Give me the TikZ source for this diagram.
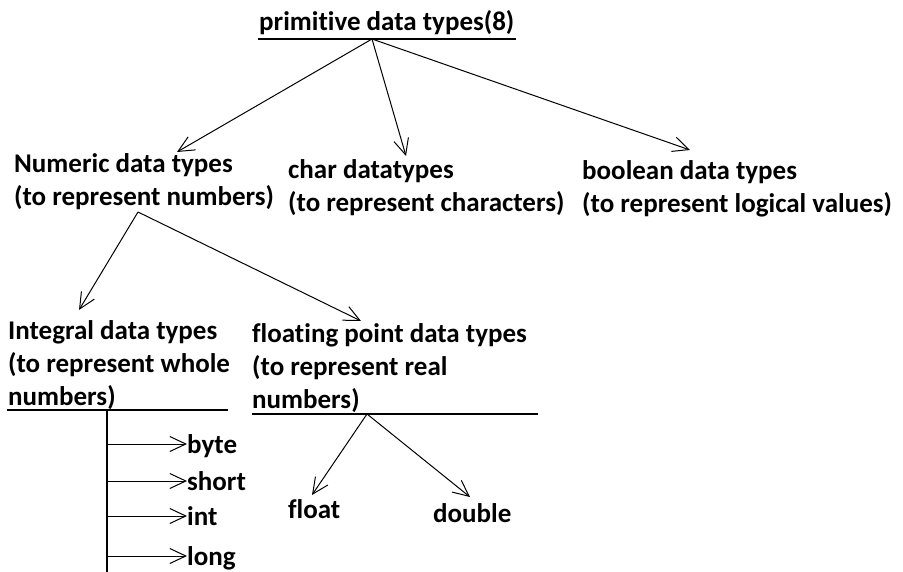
\documentclass[tikz,border=0pt]{standalone}
\usepackage{fontspec}
\setmainfont{Carlito}[Ligatures=NoCommon]
\usetikzlibrary{arrows.meta}

\begin{document}
\begin{tikzpicture}[x=1pt,y=-1pt,
    lbl/.style={anchor=base west,inner sep=0pt,align=left,font=\bfseries\fontsize{27}{33}\selectfont},
    arr/.style={line width=1pt,-{Straight Barb[length=16pt,width=15pt]}},
    rule/.style={line width=1.6pt}]
\useasboundingbox (0,0) rectangle (903,572);

% labels (base = last line)
\node[lbl] (prim) at (259,31) {primitive data types(8)};
\node[lbl] (numeric) at (14,206) {Numeric data types\\(to represent numbers)};
\node[lbl] (chr) at (288,212) {char datatypes\\(to represent characters)};
\node[lbl] (bool) at (582,213) {boolean data types\\(to represent logical values)};
\node[lbl] (integral) at (8,405) {Integral data types\\(to represent whole\\numbers)};
\node[lbl] (floating) at (252,408) {floating point data types\\(to represent real\\numbers)};
\node[lbl] (float) at (288,518) {float};
\node[lbl] (double) at (433,522) {double};

% underlines
\draw[rule] (258,39) -- (516,39);
\draw[rule] (7,410) -- (228,410);
\draw[rule] (252,414) -- (538,414);

% first level
\coordinate (primroot) at (372,39);
\coordinate (numtip) at (177,152);
\coordinate (chartip) at (406,156);
\coordinate (booltip) at (690,150);
\draw[arr] (primroot) -- (numtip);
\draw[arr] (primroot) -- (chartip);
\draw[arr] (primroot) -- (booltip);

% numeric split
\coordinate (numroot) at (138,212);
\coordinate (inttip) at (79,310);
\coordinate (flttip) at (361,321);
\draw[arr] (numroot) -- (inttip);
\draw[arr] (numroot) -- (flttip);

% integral list
\coordinate (trunktop) at (107,410);
\coordinate (trunkbot) at (107,572);
\draw[line width=1.6pt] (trunktop) -- (trunkbot);
\foreach \n/\y in {byte/453,short/490,int/525,long/565}{
    \node[lbl] (\n) at (187,\y) {\n};
    \coordinate (\n-tip) at ([yshift=9pt]\n.base west);
    \draw[arr] (trunktop |- \n-tip) -- (\n-tip);
}

% floating split
\coordinate (fltroot) at (367,414);
\coordinate (floattip) at (312,495);
\coordinate (doubletip) at (470,497);
\draw[arr] (fltroot) -- (floattip);
\draw[arr] (fltroot) -- (doubletip);
\end{tikzpicture}
\end{document}
